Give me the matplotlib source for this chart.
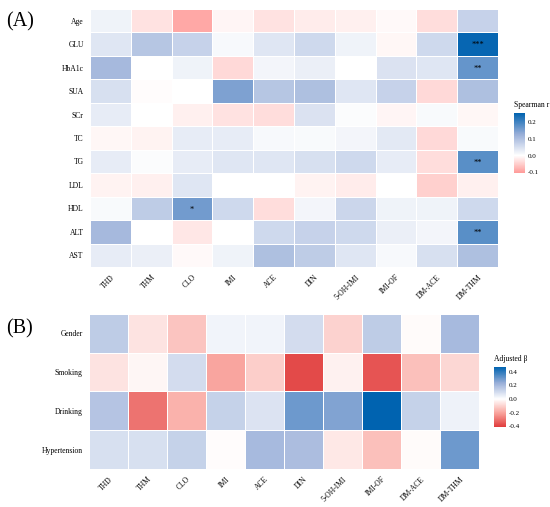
import numpy as np
import matplotlib
matplotlib.use("Agg")
import matplotlib.pyplot as plt
from matplotlib.colors import LinearSegmentedColormap, Normalize

plt.rcParams['font.family'] = ['Liberation Serif', 'DejaVu Serif']

# metabolite columns (same for both panels)
metabolites = ["THD", "THM", "CLO", "IMI", "ACE", "DIN", "5-OH-IMI", "IMI-OF", "DM-ACE", "DM-THM"]

# panel A: spearman correlation with clinical indices
clinical = ["Age", "GLU", "HbA1c", "SUA", "SCr", "TC", "TG", "LDL", "HDL", "ALT", "AST"]
spearman_r = [
    [0.020, -0.030, -0.090, -0.010, -0.030, -0.020, -0.015, -0.005, -0.035, 0.070],
    [0.040, 0.090, 0.070, 0.010, 0.040, 0.060, 0.020, -0.008, 0.060, 0.250],
    [0.110, 0.000, 0.020, -0.040, 0.015, 0.025, 0.000, 0.045, 0.040, 0.170],
    [0.050, -0.003, 0.000, 0.150, 0.090, 0.100, 0.040, 0.070, -0.040, 0.100],
    [0.030, 0.000, -0.015, -0.030, -0.035, 0.045, 0.005, -0.010, 0.008, -0.008],
    [-0.008, -0.012, 0.030, 0.030, 0.010, 0.008, 0.015, 0.035, -0.040, 0.008],
    [0.030, 0.005, 0.030, 0.040, 0.040, 0.050, 0.060, 0.030, -0.035, 0.180],
    [-0.012, -0.015, 0.040, 0.000, 0.000, -0.012, -0.020, 0.000, -0.050, -0.015],
    [0.008, 0.080, 0.160, 0.060, -0.035, 0.015, 0.065, 0.020, 0.020, 0.060],
    [0.110, 0.000, -0.025, 0.000, 0.060, 0.070, 0.060, 0.025, 0.015, 0.180],
    [0.030, 0.025, -0.005, 0.020, 0.100, 0.080, 0.040, 0.010, 0.050, 0.100],
]
# significance marks (row, col, stars)
signif = [(1, 9, "***"), (2, 9, "**"), (6, 9, "**"), (8, 2, "*"), (9, 9, "**")]

# panel B: adjusted beta for covariates
covariates = ["Gender", "Smoking", "Drinking", "Hypertension"]
adj_beta = [
    [0.15, -0.06, -0.13, 0.03, 0.03, 0.10, -0.10, 0.15, -0.01, 0.20],
    [-0.06, -0.02, 0.10, -0.20, -0.11, -0.38, -0.03, -0.36, -0.14, -0.09],
    [0.17, -0.30, -0.17, 0.13, 0.08, 0.30, 0.27, 0.47, 0.13, 0.04],
    [0.09, 0.09, 0.13, -0.005, 0.20, 0.19, -0.05, -0.14, -0.01, 0.30],
]


def make_cmap(vmin, vmax, low, low_mid, mid_hi, high):
    p0 = -vmin / (vmax - vmin)
    stops = [(0.0, low), (p0 / 2, low_mid), (p0, "white"),
             (p0 + (1 - p0) / 2, mid_hi), (1.0, high)]
    return LinearSegmentedColormap.from_list("div", stops)


def draw_heat(ax, data, rows, cols, cmap, norm):
    data = np.array(data)
    ax.pcolormesh(data, cmap=cmap, norm=norm, edgecolors="white", linewidth=0.5)
    ax.set_xlim(0, len(cols))
    ax.set_ylim(len(rows), 0)
    ax.set_xticks(np.arange(len(cols)) + 0.5)
    ax.set_xticklabels(cols, rotation=45, ha="right", va="top",
                       rotation_mode="anchor", fontsize=5.5)
    ax.set_yticks(np.arange(len(rows)) + 0.5)
    ax.set_yticklabels(rows, fontsize=5.5)
    ax.tick_params(length=0, pad=4.5)
    for s in ax.spines.values():
        s.set_visible(False)


def draw_cbar(fig, rect, cmap, norm, ticks, title):
    cax = fig.add_axes(rect)
    sm = plt.cm.ScalarMappable(norm=norm, cmap=cmap)
    cb = fig.colorbar(sm, cax=cax, ticks=ticks)
    cb.outline.set_visible(False)
    cb.ax.set_yticklabels([f"{t:.1f}" for t in ticks], fontsize=5)
    cb.ax.tick_params(length=0, pad=2)
    cax.text(0, 1.06, title, transform=cax.transAxes, fontsize=5.5,
             ha="left", va="bottom")


fig = plt.figure(figsize=(5.5, 5.07), dpi=100)

# (A)
norm_a = Normalize(-0.105, 0.256)
cmap_a = make_cmap(-0.105, 0.256, "#FF9A98", "#FFCDCB", "#98AED8", "#0063B0")
ax_a = fig.add_axes([0.1636, 0.4734, 0.7418, 0.5089])
draw_heat(ax_a, spearman_r, clinical, metabolites, cmap_a, norm_a)
for r, c, s in signif:
    ax_a.text(c + 0.5, r + 0.55, s, ha="center", va="center", fontsize=6, color="black")
draw_cbar(fig, [0.9345, 0.6588, 0.02, 0.1183], cmap_a, norm_a,
          [-0.1, 0.0, 0.1, 0.2], "Spearman r")
fig.text(0.012, 1 - 22 / 507, "(A)", fontsize=14.5, va="center", ha="left")

# (B)
norm_b = Normalize(-0.41, 0.47)
cmap_b = make_cmap(-0.41, 0.47, "#E03C3C", "#F9A39C", "#98AED8", "#0063B0")
ax_b = fig.add_axes([0.1618, 0.0750, 0.709, 0.3057])
draw_heat(ax_b, adj_beta, covariates, metabolites, cmap_b, norm_b)
draw_cbar(fig, [0.8982, 0.1578, 0.0218, 0.1183], cmap_b, norm_b,
          [-0.4, -0.2, 0.0, 0.2, 0.4], "Adjusted β")
fig.text(0.012, 1 - 329 / 507, "(B)", fontsize=14.5, va="center", ha="left")

fig.savefig("out.png", dpi=100)
